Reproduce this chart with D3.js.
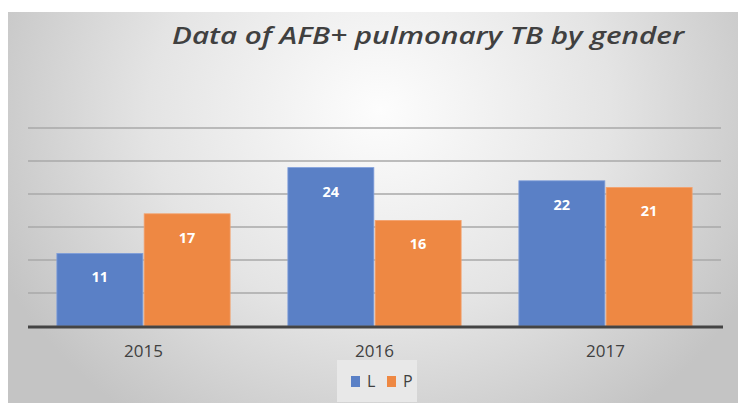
<!DOCTYPE html>
<html><head><meta charset="utf-8">
<script src="https://cdn.jsdelivr.net/npm/d3@7/dist/d3.min.js"></script>
<style>body{margin:0;background:#fff}svg{display:block}</style>
</head><body>
<script>
const categories = ["2015", "2016", "2017"];
const seriesNames = ["L", "P"];
const valuesL = [11, 24, 22];
const valuesP = [17, 16, 21];
const yTicks = [0, 5, 10, 15, 20, 25, 30];
const title = "Data of AFB+ pulmonary TB by gender";
const colors = {L: "#5a80c6", P: "#ee8843"};

const W = 748, H = 405;
const svg = d3.select("body").append("svg").attr("width", W).attr("height", H);
const defs = svg.append("defs");
const rg = defs.append("radialGradient").attr("id", "bg")
  .attr("gradientUnits", "userSpaceOnUse").attr("cx", 380).attr("cy", 110).attr("r", 420)
  .attr("gradientTransform", "translate(380,110) scale(1,0.9) translate(-380,-110)");
rg.append("stop").attr("offset", "0").attr("stop-color", "#fdfdfd");
rg.append("stop").attr("offset", "0.55").attr("stop-color", "#e4e4e4");
rg.append("stop").attr("offset", "1").attr("stop-color", "#c4c4c4");

svg.append("rect").attr("x", 8).attr("y", 12).attr("width", 730).attr("height", 391).attr("fill", "url(#bg)");

const margin = {left: 28, right: 27, top: 128, bottom: 79};
const x0 = d3.scaleBand().domain(categories).range([margin.left, W - margin.right]).paddingInner(0.25).paddingOuter(0.125);
const x1 = d3.scaleBand().domain(seriesNames).range([0, x0.bandwidth()]).paddingInner(0.015);
const y = d3.scaleLinear().domain([0, 30]).range([H - margin.bottom, margin.top]);

// gridlines
svg.append("g").selectAll("line").data(yTicks.filter(d => d > 0)).join("line")
  .attr("x1", margin.left).attr("x2", W - margin.right)
  .attr("y1", d => y(d)).attr("y2", d => y(d))
  .attr("stroke", "#a8a8a8").attr("stroke-width", 1.3);

const data = categories.map((c, i) => ({cat: c, vals: [{s: "L", v: valuesL[i]}, {s: "P", v: valuesP[i]}]}));

const groups = svg.append("g").selectAll("g").data(data).join("g")
  .attr("transform", d => `translate(${x0(d.cat)},0)`);
groups.selectAll("rect").data(d => d.vals).join("rect")
  .attr("x", d => x1(d.s)).attr("width", x1.bandwidth())
  .attr("y", d => y(d.v)).attr("height", d => y(0) - y(d.v))
  .attr("fill", d => colors[d.s]).attr("stroke", d => d.s === "L" ? "#7f9edb" : "#f4a26d").attr("stroke-width", 0.8);
groups.selectAll("text").data(d => d.vals).join("text")
  .attr("x", d => x1(d.s) + x1.bandwidth() / 2).attr("y", d => y(d.v) + 29)
  .attr("text-anchor", "middle").attr("fill", "#fff")
  .attr("font-family", "Open Sans, sans-serif").attr("font-weight", "bold").attr("font-size", 14.5)
  .text(d => d.v);

// axis line
svg.append("line").attr("x1", margin.left).attr("x2", W - margin.right + 2)
  .attr("y1", y(0) + 1).attr("y2", y(0) + 1).attr("stroke", "#444").attr("stroke-width", 3);

// x axis labels
const xAxis = d3.axisBottom(x0).tickSize(0).tickPadding(17);
const gx = svg.append("g").attr("transform", `translate(0,${y(0) + 2})`).call(xAxis);
gx.select(".domain").remove();
gx.selectAll("text").attr("font-family", "Open Sans, sans-serif").attr("font-size", 17).attr("fill", "#404040");

// title
svg.append("text").attr("x", 428).attr("y", 44).attr("text-anchor", "middle")
  .attr("font-family", "Open Sans, sans-serif").attr("font-style", "italic").attr("font-weight", 600)
  .attr("font-size", 24).attr("fill", "#404040")
  .attr("textLength", 512).attr("lengthAdjust", "spacingAndGlyphs")
  .text(title);

// legend
const lg = svg.append("g");
lg.append("rect").attr("x", 337).attr("y", 360).attr("width", 80).attr("height", 42).attr("fill", "#e8e8e8");
const items = lg.selectAll("g").data(seriesNames).join("g")
  .attr("transform", (d, i) => `translate(${351 + i * 36},0)`);
items.append("rect").attr("x", 0).attr("y", 376).attr("width", 9).attr("height", 11).attr("fill", d => colors[d]);
items.append("text").attr("x", 16).attr("y", 387).attr("font-family", "Open Sans, sans-serif")
  .attr("font-size", 16).attr("fill", "#404040").text(d => d);
</script>
</body></html>
